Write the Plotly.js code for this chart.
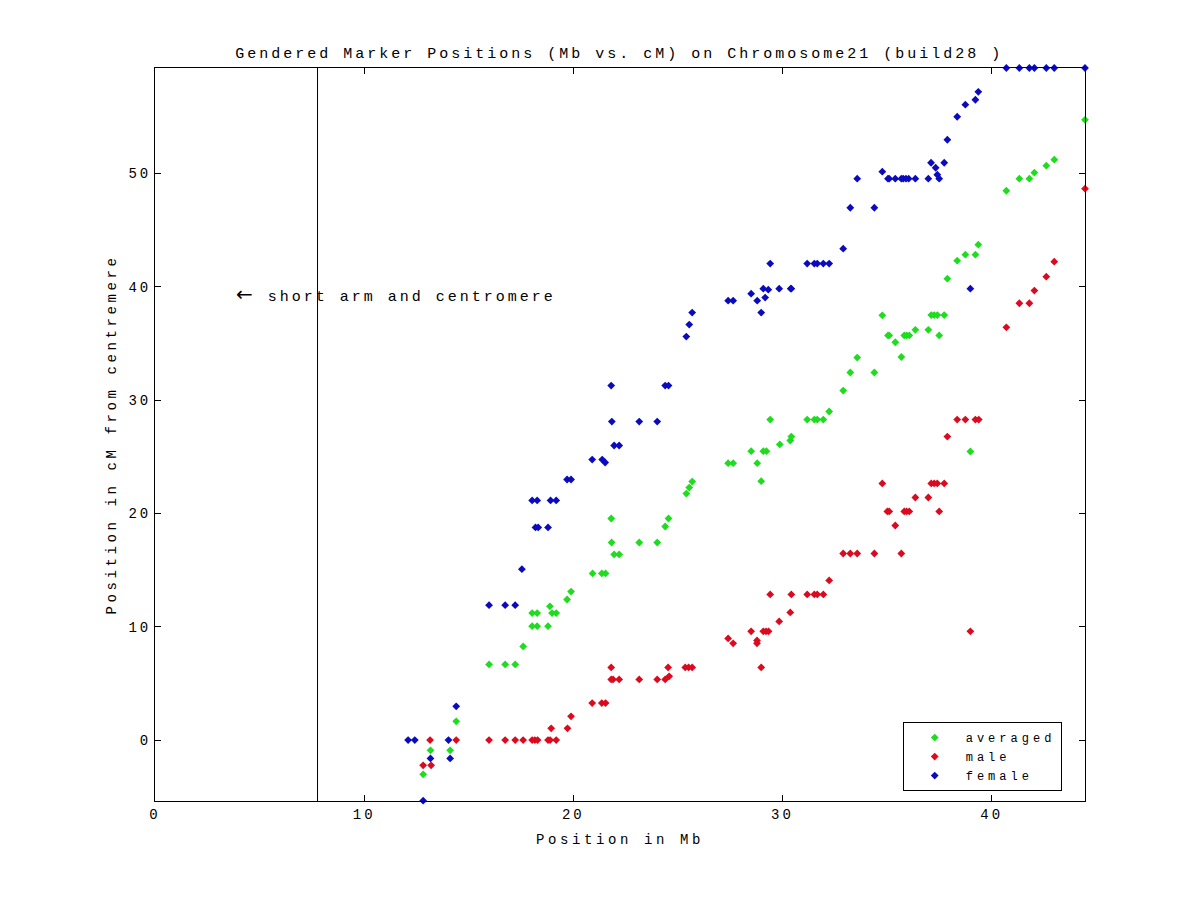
<!DOCTYPE html>
<html>
<head>
<meta charset="utf-8">
<script src="https://cdn.plot.ly/plotly-3.0.1.min.js"></script>
<style>
  html, body { margin: 0; padding: 0; background: #fff; }
  #chart { width: 1200px; height: 900px; }
  svg text { letter-spacing: 3px; }
  svg text.xtitle, svg text.ytitle { letter-spacing: 3.6px; }
  svg text.legendtext { letter-spacing: 4px; }
</style>
</head>
<body>
<div id="chart"></div>
<script>
// ---- Data ----
const seriesNames = ["averaged", "male", "female"];

const averagedMb = [12.82,13.17,14.11,14.40,15.97,16.74,17.22,17.60,18.03,18.27,18.03,18.27,18.79,18.88,18.98,19.18,19.70,19.89,20.92,21.36,21.54,21.81,21.83,21.95,22.19,23.15,24.01,24.39,24.55,25.40,25.54,25.68,27.40,27.64,28.50,28.79,28.98,29.08,29.23,29.41,29.87,30.37,30.42,31.18,31.52,31.66,31.95,32.23,32.90,33.24,33.57,34.39,34.77,35.04,35.10,35.39,35.68,35.82,35.93,36.06,36.35,36.97,37.11,37.25,37.40,37.49,37.73,37.88,38.35,38.74,38.98,39.22,39.36,40.70,41.32,41.80,42.04,42.61,42.99,44.46];
const averagedCM = [-3.03,-0.91,-0.91,1.65,6.67,6.67,6.67,8.26,11.2,11.2,10.05,10.05,10.05,11.8,11.2,11.2,12.4,13.1,14.70,14.70,14.70,19.55,17.43,16.38,16.38,17.43,17.43,18.84,19.55,21.75,22.28,22.81,24.43,24.43,25.49,24.43,22.84,25.49,25.49,28.28,26.08,26.43,26.78,28.28,28.28,28.28,28.28,28.99,30.84,32.43,33.75,32.43,37.48,35.7,35.7,35.1,33.8,35.7,35.7,35.7,36.2,36.2,37.5,37.5,37.5,35.7,37.5,40.71,42.30,42.83,25.46,42.83,43.71,48.47,49.53,49.53,50.06,50.68,51.21,54.73];

const maleMb = [12.82,13.15,13.20,14.40,15.97,16.74,17.22,17.60,18.03,18.16,18.29,18.79,18.89,18.94,19.18,19.72,19.89,20.90,21.36,21.54,21.81,21.81,21.90,22.19,23.15,24.01,24.39,24.53,24.58,25.35,25.51,25.68,27.40,27.64,28.50,28.78,28.78,28.98,29.08,29.21,29.33,29.41,29.84,30.37,30.42,31.18,31.52,31.66,31.95,32.23,32.90,33.24,33.57,34.39,34.77,35.01,35.10,35.39,35.68,35.82,35.93,36.06,36.35,36.97,37.11,37.25,37.40,37.49,37.73,37.88,38.35,38.74,38.98,39.22,39.38,40.70,41.32,41.80,42.04,42.61,42.99,44.46];
const maleCM = [-2.23,0,-2.23,0,0,0,0,0,0,0,0,0,0,1.03,0,1.03,2.09,3.26,3.26,3.26,6.41,5.35,5.35,5.35,5.35,5.35,5.35,6.41,5.62,6.41,6.41,6.41,8.97,8.53,9.59,8.79,8.53,6.41,9.59,9.59,9.59,12.85,10.47,11.26,12.85,12.85,12.85,12.85,12.85,14.08,16.46,16.46,16.46,16.46,22.64,20.17,20.17,18.93,16.46,20.17,20.17,20.17,21.40,21.40,22.64,22.64,22.64,20.17,22.64,26.78,28.28,28.28,9.59,28.28,28.28,36.42,38.54,38.54,39.66,40.89,42.21,48.65];

const femaleMb = [12.10,12.42,12.82,13.17,14.03,14.11,14.40,15.97,16.74,17.22,17.54,18.03,18.27,18.19,18.32,18.79,18.91,19.18,19.70,19.89,20.90,21.38,21.52,21.81,21.84,21.95,22.19,23.15,24.01,24.39,24.55,25.40,25.54,25.68,27.40,27.64,28.50,28.79,28.98,29.08,29.17,29.32,29.41,29.84,30.39,30.42,31.18,31.52,31.66,31.95,32.23,32.90,33.24,33.57,34.39,34.77,35.04,35.10,35.39,35.68,35.77,35.90,36.03,36.35,36.97,37.10,37.32,37.40,37.49,37.73,37.88,38.35,38.74,38.98,39.22,39.36,40.70,41.32,41.80,42.04,42.61,42.99,44.46];
const femaleCM = [0,0,-5.35,-1.62,0,-1.62,2.97,11.9,11.9,11.9,15.08,21.14,21.14,18.76,18.76,18.76,21.14,21.14,22.99,22.99,24.75,24.75,24.49,31.28,28.10,25.99,25.99,28.10,28.10,31.28,31.28,35.60,36.66,37.72,38.77,38.77,39.39,38.77,37.72,39.83,39.04,39.74,42.04,39.83,39.83,39.83,42.04,42.04,42.04,42.04,42.04,43.36,46.97,49.53,46.97,50.15,49.53,49.53,49.53,49.53,49.53,49.53,49.53,49.53,49.53,50.94,50.50,49.88,49.53,50.94,52.97,55.00,56.06,39.83,56.50,57.20,59.3,59.3,59.3,59.3,59.3,59.3,59.3];

const xTicks = [0, 10, 20, 30, 40];
const yTicks = [0, 10, 20, 30, 40, 50];
const centromereMb = 7.77;

// ---- Styling ----
const FONT = "Liberation Mono, DejaVu Sans Mono, monospace";
const colors = ["rgb(30,220,30)", "rgb(220,10,30)", "rgb(10,10,190)"];
const xs = [averagedMb, maleMb, femaleMb];
const ys = [averagedCM, maleCM, femaleCM];

const traces = seriesNames.map((name, i) => ({
  type: "scatter",
  mode: "markers",
  name: name,
  x: xs[i],
  y: ys[i],
  cliponaxis: false,
  marker: { symbol: "diamond", size: 6, color: colors[i], line: { width: 0 } }
}));

const axisCommon = {
  showline: true, mirror: "ticks", linecolor: "#000", linewidth: 1,
  ticks: "inside", ticklen: 6, tickcolor: "#000", tickwidth: 1,
  showgrid: false, zeroline: false,
  tickfont: { family: FONT, size: 14, color: "#000" }
};

const layout = {
  width: 1200, height: 900,
  paper_bgcolor: "#fff", plot_bgcolor: "#fff",
  margin: { l: 155, r: 115, t: 68, b: 99 },
  showlegend: true,
  title: {
    text: "Gendered Marker Positions (Mb vs. cM) on Chromosome21 (build28 )",
    font: { family: FONT, size: 15, color: "#000" },
    x: 0.516, xanchor: "center", y: 0.941, yanchor: "middle", yref: "container"
  },
  xaxis: Object.assign({}, axisCommon, {
    range: [0, 44.46], tickvals: xTicks, ticktext: xTicks.map(String),
    title: { text: "Position in Mb", font: { family: FONT, size: 14, color: "#000" }, standoff: 12 }
  }),
  yaxis: Object.assign({}, axisCommon, {
    range: [-5.38, 59.3], tickvals: yTicks, ticktext: yTicks.map(String),
    title: { text: "Position in cM from centremere", font: { family: FONT, size: 14, color: "#000" }, standoff: 8 }
  }),
  legend: {
    x: 0.804, y: 0.0136, xanchor: "left", yanchor: "bottom",
    bgcolor: "#fff", bordercolor: "#000", borderwidth: 1,
    font: { family: FONT, size: 12, color: "#000" },
    itemwidth: 52, tracegroupgap: 0
  },
  shapes: [{
    type: "line", xref: "x", yref: "paper",
    x0: centromereMb, x1: centromereMb, y0: 0, y1: 1,
    line: { color: "#000", width: 1 }
  }],
  annotations: [{
    xref: "x", yref: "y", x: 3.8, y: 39.4,
    xanchor: "left", yanchor: "middle", showarrow: false,
    text: "<span style=\"font-family:DejaVu Sans;font-size:20px\">\u2190</span> short arm and centromere",
    font: { family: FONT, size: 15, color: "#000" }
  }]
};

Plotly.newPlot("chart", traces, layout, { displayModeBar: false, staticPlot: true });
</script>
</body>
</html>
